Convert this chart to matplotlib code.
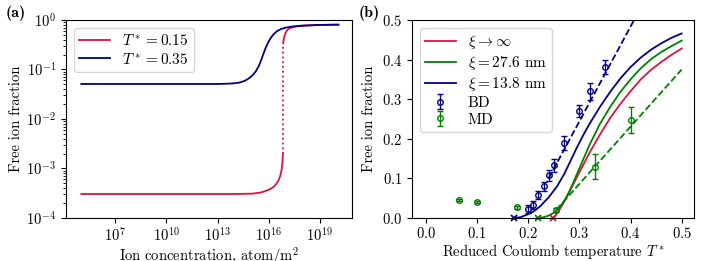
import matplotlib
matplotlib.use('Agg')
import matplotlib.pyplot as plt
import numpy as np

plt.rcParams['font.family'] = 'serif'
plt.rcParams['font.serif'] = ['cmr10']
plt.rcParams['mathtext.fontset'] = 'cm'
plt.rcParams['axes.formatter.use_mathtext'] = True
plt.rcParams['font.size'] = 10.5

RED = '#dc143c'
BLUE = '#000080'
GREEN = '#008000'

# ---- panel (a): free ion fraction vs concentration (log10 of atom/m^2)
logc_hot = [5, 13.08, 13.8, 14.25, 14.6, 14.84, 15.05, 15.24, 15.4, 15.53, 15.68, 15.82, 15.97,
            16.12, 16.3, 16.51, 16.75, 17.0, 17.4, 17.98, 19.0, 20.1]
frac_hot = [0.051, 0.051, 0.052, 0.054, 0.059, 0.066, 0.076, 0.091, 0.113, 0.144, 0.2, 0.27, 0.35,
            0.43, 0.52, 0.60, 0.66, 0.70, 0.74, 0.77, 0.795, 0.805]

logc_cold_lo = [5, 14.0, 15.04, 15.5, 15.82, 16.1, 16.31, 16.47, 16.6, 16.7, 16.76, 16.81, 16.84]
frac_cold_lo = [3.05e-4, 3.05e-4, 3.1e-4, 3.25e-4, 3.5e-4, 3.85e-4, 4.3e-4, 5.0e-4, 5.9e-4, 7.4e-4,
                9.3e-4, 1.3e-3, 2.0e-3]
logc_cold_hi = [16.86, 16.88, 16.92, 17.0, 17.1, 17.25, 17.39, 17.7, 18.18, 19.0, 20.1]
frac_cold_hi = [0.34, 0.40, 0.46, 0.55, 0.63, 0.68, 0.71, 0.745, 0.77, 0.795, 0.805]
logc_jump = 16.86

# ---- panel (b): free ion fraction vs reduced temperature
T_inf = [0.25, 0.26, 0.27, 0.28, 0.29, 0.30, 0.32, 0.34, 0.36, 0.38, 0.40, 0.42, 0.44, 0.46, 0.48, 0.50]
f_inf = [0.0, 0.018, 0.04, 0.065, 0.09, 0.115, 0.165, 0.21, 0.252, 0.288, 0.32, 0.35, 0.374,
         0.394, 0.412, 0.428]

T_276 = [0.22, 0.23, 0.24, 0.25, 0.26, 0.27, 0.28, 0.29, 0.30, 0.32, 0.34, 0.36, 0.38, 0.40, 0.42,
         0.44, 0.46, 0.48, 0.50]
f_276 = [0.0, 0.002, 0.006, 0.013, 0.025, 0.042, 0.065, 0.095, 0.125, 0.185, 0.237, 0.28, 0.318,
         0.35, 0.378, 0.401, 0.419, 0.434, 0.448]

T_138 = [0.173, 0.185, 0.197, 0.21, 0.223, 0.24, 0.256, 0.27, 0.282, 0.296, 0.31, 0.321, 0.34, 0.36,
         0.38, 0.40, 0.42, 0.44, 0.46, 0.48, 0.50]
f_138 = [0.0, 0.002, 0.008, 0.016, 0.029, 0.052, 0.079, 0.11, 0.142, 0.18, 0.215, 0.24, 0.28, 0.318,
         0.352, 0.381, 0.405, 0.425, 0.441, 0.455, 0.466]

T_bd = [0.20, 0.21, 0.22, 0.23, 0.24, 0.25, 0.27, 0.30, 0.32, 0.35]
f_bd = [0.022, 0.033, 0.057, 0.080, 0.108, 0.133, 0.190, 0.270, 0.320, 0.381]
e_bd = [0.010, 0.010, 0.010, 0.012, 0.014, 0.017, 0.018, 0.015, 0.022, 0.018]

T_md = [0.065, 0.10, 0.178, 0.255, 0.33, 0.40]
f_md = [0.045, 0.040, 0.027, 0.021, 0.130, 0.248]
e_md = [0.003, 0.002, 0.004, 0.005, 0.032, 0.033]

fit_bd_T = [0.24, 0.407]
fit_bd_f = [0.10, 0.50]
fit_md_T = [0.255, 0.50]
fit_md_f = [0.021, 0.375]

onset_T = [0.173, 0.219, 0.249]
onset_col = [BLUE, GREEN, RED]

fig = plt.figure(figsize=(7.09, 2.61), dpi=100)
axa = fig.add_axes([0.0931, 0.1648, 0.4034, 0.7586])
axb = fig.add_axes([0.5811, 0.1648, 0.3977, 0.7586])

# (a)
axa.plot(10.0 ** np.array(logc_cold_lo), frac_cold_lo, color=RED, lw=1.3, label=r'$T^* = 0.15$')
axa.plot([10.0 ** logc_jump] * 2, [frac_cold_lo[-1], frac_cold_hi[0]], color=RED, lw=1.3, ls=':')
axa.plot(10.0 ** np.array(logc_cold_hi), frac_cold_hi, color=RED, lw=1.3)
axa.plot(10.0 ** np.array(logc_hot), frac_hot, color=BLUE, lw=1.3, label=r'$T^* = 0.35$')
axa.set_xscale('log')
axa.set_yscale('log')
axa.set_xlim(10 ** 4.1, 10 ** 20.9)
axa.set_ylim(1e-4, 1)
axa.set_xticks([1e7, 1e10, 1e13, 1e16, 1e19])
axa.set_xlabel(r'Ion concentration, atom/m$^2$', labelpad=0.5)
axa.set_ylabel('Free ion fraction', labelpad=2.5)
axa.tick_params(axis='x', pad=2.5)
axa.legend(loc='upper left', fontsize=11, borderpad=0.35, labelspacing=0.25)

# (b)
axb.plot(T_inf, f_inf, color=RED, lw=1.3, label=r'$\xi \to \infty$')
axb.plot(T_276, f_276, color=GREEN, lw=1.3, label=r'$\xi = 27.6$ nm')
axb.plot(T_138, f_138, color=BLUE, lw=1.3, label=r'$\xi = 13.8$ nm')
axb.plot(fit_bd_T, fit_bd_f, color=BLUE, lw=1.3, ls='--')
axb.plot(fit_md_T, fit_md_f, color=GREEN, lw=1.3, ls='--')
axb.errorbar(T_bd, f_bd, yerr=e_bd, fmt='o', color=BLUE, mfc='none', ms=4, mew=1,
             capsize=2.5, elinewidth=1, label='BD')
axb.errorbar(T_md, f_md, yerr=e_md, fmt='o', color=GREEN, mfc='none', ms=4, mew=1,
             capsize=2.5, elinewidth=1, label='MD')
for t, c in zip(onset_T, onset_col):
    axb.plot(t, 0, 'x', color=c, ms=4, mew=1.3, clip_on=False)
axb.set_xlim(-0.027, 0.524)
axb.set_ylim(0, 0.5)
axb.set_xticks([0.0, 0.1, 0.2, 0.3, 0.4, 0.5])
axb.set_xlabel(r'Reduced Coulomb temperature $T^*$', labelpad=0.5)
axb.set_ylabel('Free ion fraction', labelpad=4)
axb.tick_params(axis='x', pad=2.5)
axb.legend(loc='upper left', fontsize=11, borderpad=0.35, labelspacing=0.2)

fig.text(0.008, 0.935, '(a)', fontsize=11.5, family='cmb10')
fig.text(0.506, 0.935, '(b)', fontsize=11.5, family='cmb10')

fig.savefig('out.png', dpi=100)
